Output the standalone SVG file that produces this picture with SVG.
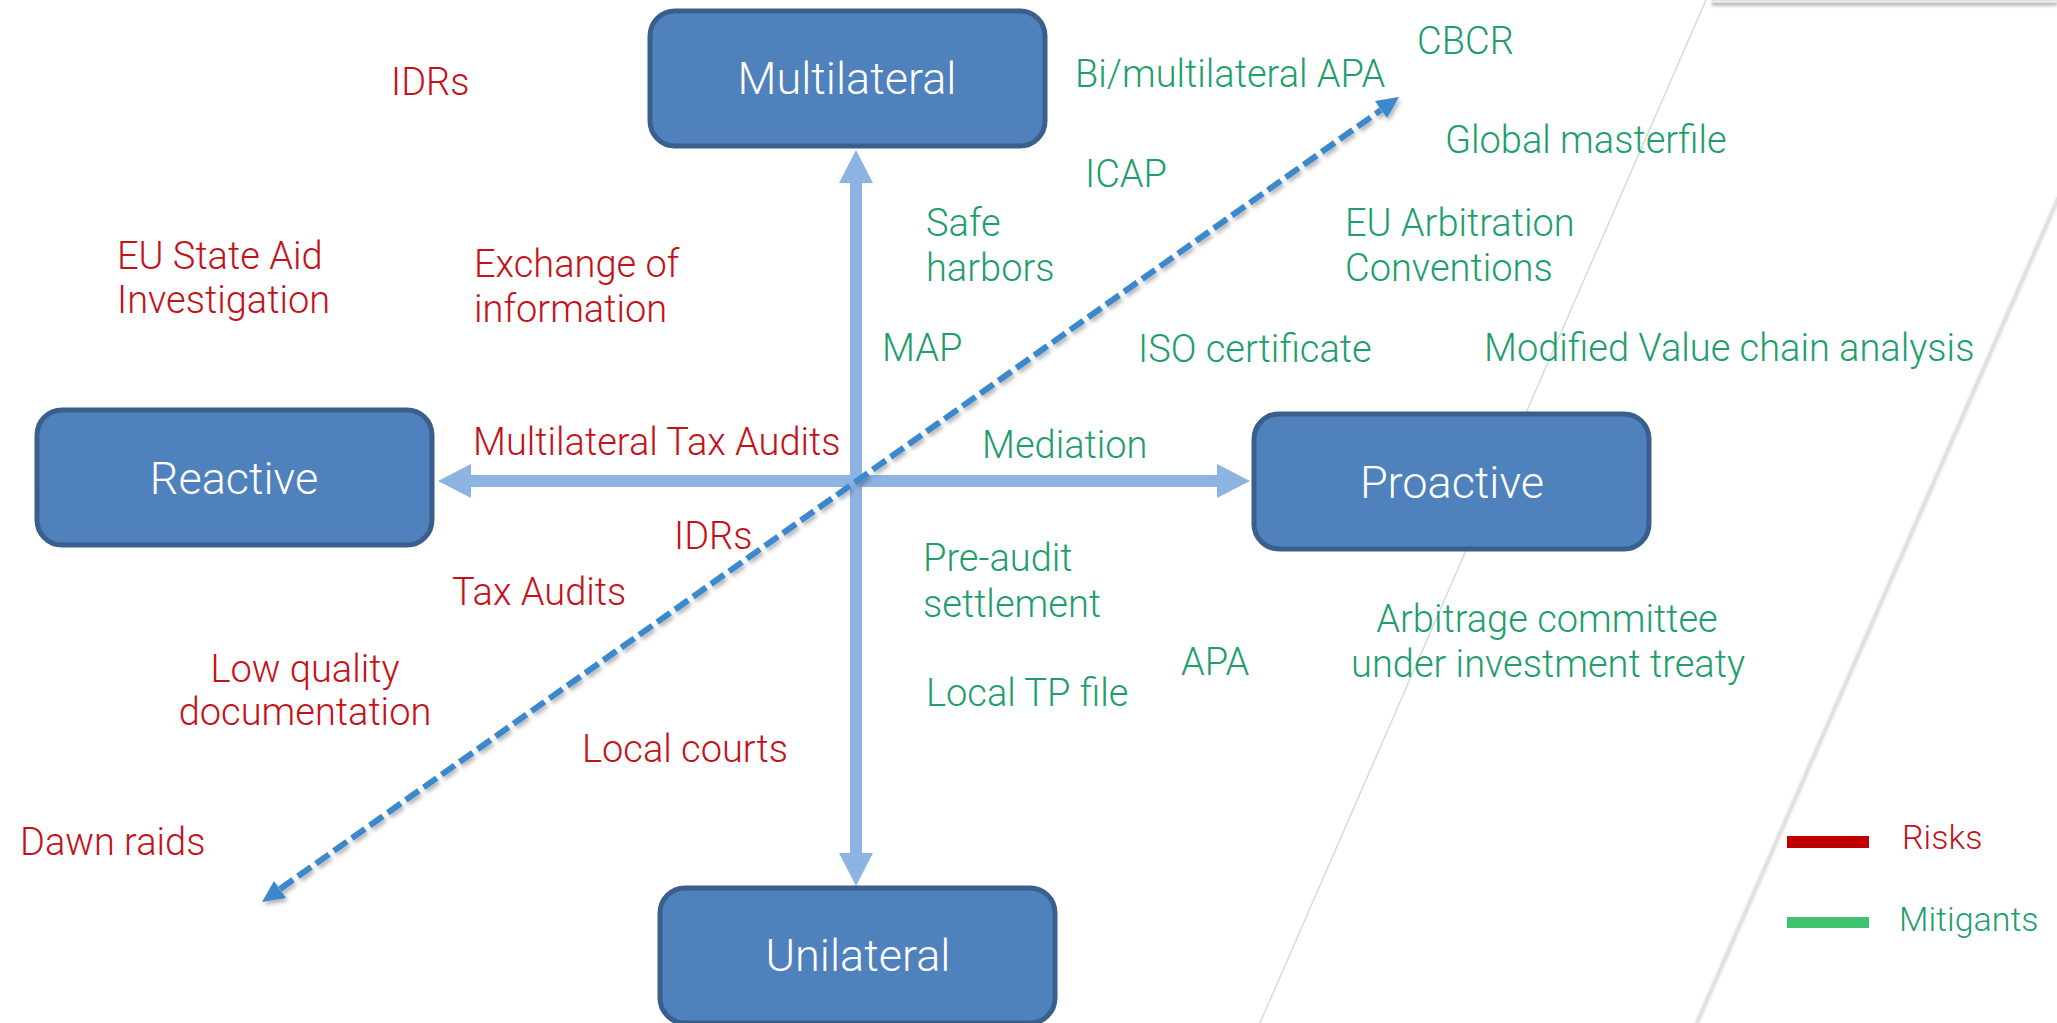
<svg xmlns="http://www.w3.org/2000/svg" width="2057" height="1023" viewBox="0 0 2057 1023">
  <defs>
    <style>
      .node rect { fill: #4F81BD; stroke: #3A5F8C; stroke-width: 5; }
      .node text { font-family: Roboto, "Liberation Sans", sans-serif; font-weight: 300; font-size: 45px; fill: #FFFFFF; text-anchor: middle; }
      .lbl { font-family: Roboto, "Liberation Sans", sans-serif; font-weight: 300; font-size: 38px; }
      .risk { fill: #C4121A; }
      .mit { fill: #1E9E6C; }
      .mid { text-anchor: middle; }
      .axis { stroke: #8DB3E2; stroke-width: 12; fill: none; }
      .axis-head { fill: #8DB3E2; }
      .diag { stroke: #3B88CD; stroke-width: 6; stroke-dasharray: 16 6; fill: none; }
      .diag-head { fill: #3B88CD; }
      .edge { stroke: #D9D9D9; stroke-width: 1.5; fill: none; }
      .legend { font-family: Roboto, "Liberation Sans", sans-serif; font-weight: 300; font-size: 34px; }
    </style>
    <filter id="soft" x="-10%" y="-10%" width="120%" height="120%">
      <feDropShadow dx="2" dy="3" stdDeviation="2" flood-color="#000000" flood-opacity="0.3"/>
    </filter>
    <filter id="blurEdge" x="-20%" y="-50%" width="140%" height="400%">
      <feGaussianBlur stdDeviation="1.5"/>
    </filter>
  </defs>

  <rect x="0" y="0" width="2057" height="1023" fill="#FFFFFF"/>

  <!-- background slide shapes -->
  <g id="background">
    <rect x="1712" y="0" width="345" height="6" fill="#BDBDBD" filter="url(#blurEdge)"/>
    <rect x="1712" y="0" width="345" height="3" fill="#E6E6E6"/>
    <line class="edge" x1="1706" y1="0" x2="1260" y2="1023"/>
    <line x1="2059" y1="197" x2="1697" y2="1023" stroke="#CFCFCF" stroke-width="3" filter="url(#blurEdge)"/>
    <line x1="2058" y1="196" x2="1696" y2="1023" stroke="#E2E2E2" stroke-width="1.5"/>
  </g>

  <!-- connectors -->
  <g id="connectors">
    <!-- four-way axis -->
    <line class="axis" x1="856" y1="481" x2="856" y2="180"/>
    <polygon class="axis-head" points="856,150 839,183 873,183"/>
    <line class="axis" x1="856" y1="481" x2="856" y2="856"/>
    <polygon class="axis-head" points="856,886 839,853 873,853"/>
    <line class="axis" x1="856" y1="481" x2="468" y2="481"/>
    <polygon class="axis-head" points="438,481 471,464 471,498"/>
    <line class="axis" x1="856" y1="481" x2="1220" y2="481"/>
    <polygon class="axis-head" points="1250,481 1217,464 1217,498"/>
    <!-- dashed diagonal, double-headed -->
    <g filter="url(#soft)">
      <line class="diag" x1="280" y1="889" x2="1381" y2="110"/>
      <polygon class="diag-head" points="1399,97 1387,118 1375,101"/>
      <polygon class="diag-head" points="262,902 274,881 286,898"/>
    </g>
  </g>

  <!-- nodes -->
  <g id="multilateral" class="node">
    <rect x="650" y="11" width="395" height="135" rx="25"/>
    <text x="847" y="94">Multilateral</text>
  </g>
  <g id="reactive" class="node">
    <rect x="37" y="410" width="395" height="135" rx="25"/>
    <text x="234" y="494">Reactive</text>
  </g>
  <g id="proactive" class="node">
    <rect x="1254" y="414" width="395" height="135" rx="25"/>
    <text x="1452" y="498">Proactive</text>
  </g>
  <g id="unilateral" class="node">
    <rect x="660" y="888" width="395" height="135" rx="25"/>
    <text x="858" y="971">Unilateral</text>
  </g>

  <!-- risks -->
  <g id="risks" class="lbl risk">
    <text x="391" y="95">IDRs</text>
    <text x="117" y="269">EU State Aid</text>
    <text x="117" y="313">Investigation</text>
    <text x="474" y="277">Exchange of</text>
    <text x="474" y="322">information</text>
    <text x="473" y="455">Multilateral Tax Audits</text>
    <text x="674" y="549">IDRs</text>
    <text x="452" y="605">Tax Audits</text>
    <text class="mid" x="305" y="682">Low quality</text>
    <text class="mid" x="305" y="725">documentation</text>
    <text x="582" y="762">Local courts</text>
    <text x="20" y="855">Dawn raids</text>
  </g>

  <!-- mitigants -->
  <g id="mitigants" class="lbl mit">
    <text x="1075" y="87">Bi/multilateral APA</text>
    <text x="1417" y="54">CBCR</text>
    <text x="1445" y="153">Global masterfile</text>
    <text x="1085" y="187">ICAP</text>
    <text x="926" y="236">Safe</text>
    <text x="926" y="281">harbors</text>
    <text x="1345" y="236">EU Arbitration</text>
    <text x="1345" y="281">Conventions</text>
    <text x="882" y="361">MAP</text>
    <text x="1138" y="362">ISO certificate</text>
    <text x="1484" y="361">Modified Value chain analysis</text>
    <text x="982" y="458">Mediation</text>
    <text x="923" y="571">Pre-audit</text>
    <text x="923" y="617">settlement</text>
    <text x="1181" y="675">APA</text>
    <text class="mid" x="1547" y="632">Arbitrage committee</text>
    <text class="mid" x="1548" y="677">under investment treaty</text>
    <text x="926" y="706">Local TP file</text>
  </g>

  <!-- legend -->
  <g id="legend">
    <rect x="1787" y="836" width="82" height="12" fill="#C00000"/>
    <text class="legend risk" x="1902" y="849">Risks</text>
    <rect x="1787" y="917" width="82" height="11" fill="#3DC36F"/>
    <text class="legend mit" x="1899" y="931">Mitigants</text>
  </g>
</svg>
